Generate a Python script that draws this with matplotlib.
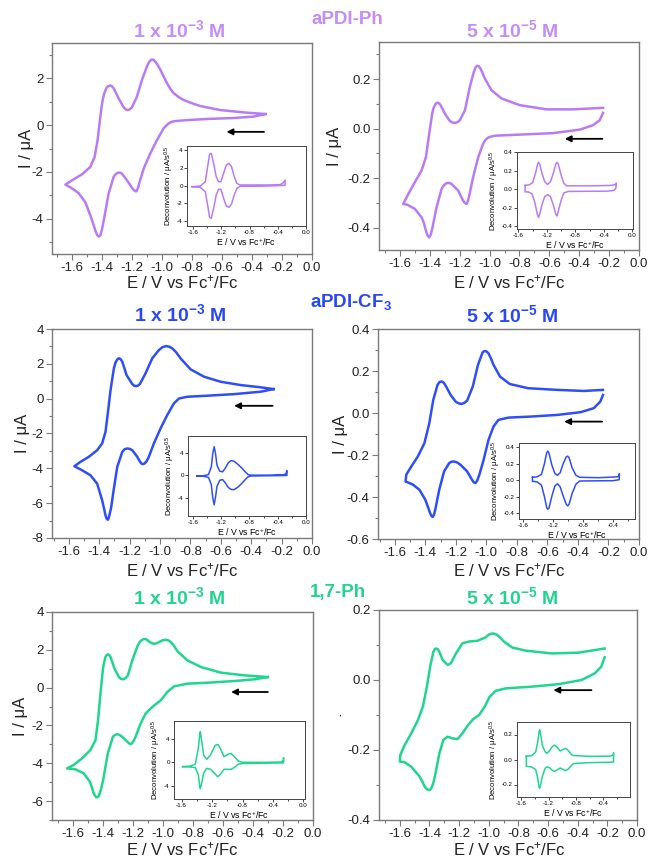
import matplotlib
matplotlib.use('Agg')
import matplotlib.pyplot as plt
from matplotlib.ticker import MultipleLocator, FormatStrFormatter, FixedLocator
from matplotlib.patches import Rectangle

plt.rcParams['font.family'] = ['Liberation Sans', 'DejaVu Sans']
plt.rcParams['mathtext.fontset'] = 'custom'
plt.rcParams['mathtext.rm'] = 'Liberation Sans'
plt.rcParams['mathtext.it'] = 'Liberation Sans:italic'
plt.rcParams['mathtext.bf'] = 'Liberation Sans:bold'
plt.rcParams['axes.unicode_minus'] = False

# ---- colours per compound
purple = '#b77cf3'
blue = '#2f4ef4'
green = '#20d590'

# ---- CV loops as (E / V, I / uA): cathodic branch first, then anodic branch
# aPDI-Ph, 1e-3 M
ph_hi_cv = [(-0.311, 0.47), (-0.389, 0.36), (-0.522, 0.30), (-0.700, 0.26), (-0.833, 0.21), (-0.911, 0.17),
            (-0.935, 0.14), (-0.956, 0.07), (-0.970, -0.02), (-0.989, -0.14), (-1.033, -0.64), (-1.078, -1.21),
            (-1.122, -1.86), (-1.149, -2.43), (-1.160, -2.68), (-1.171, -2.83), (-1.183, -2.80), (-1.196, -2.71),
            (-1.233, -2.36), (-1.267, -2.07), (-1.280, -2.03), (-1.293, -2.03), (-1.308, -2.09), (-1.322, -2.21),
            (-1.356, -2.93), (-1.384, -3.93), (-1.398, -4.40), (-1.411, -4.71), (-1.422, -4.76), (-1.433, -4.68),
            (-1.444, -4.50), (-1.458, -4.22), (-1.473, -3.93), (-1.511, -3.29), (-1.556, -2.90), (-1.607, -2.67),
            (-1.644, -2.54),
            (-1.600, -2.36), (-1.533, -2.10), (-1.478, -1.79), (-1.449, -1.36), (-1.429, -0.64), (-1.420, -0.15),
            (-1.411, 0.36), (-1.402, 0.80), (-1.393, 1.14), (-1.382, 1.40), (-1.371, 1.57), (-1.358, 1.66),
            (-1.344, 1.69), (-1.333, 1.65), (-1.322, 1.57), (-1.289, 1.14), (-1.256, 0.76), (-1.242, 0.67),
            (-1.229, 0.64), (-1.215, 0.67), (-1.200, 0.76), (-1.167, 1.21), (-1.133, 1.93), (-1.100, 2.50),
            (-1.085, 2.70), (-1.071, 2.79), (-1.058, 2.79), (-1.044, 2.71), (-1.028, 2.55), (-1.011, 2.36),
            (-0.967, 1.79), (-0.945, 1.55), (-0.922, 1.36), (-0.890, 1.20), (-0.856, 1.07), (-0.800, 0.93),
            (-0.744, 0.81), (-0.611, 0.64), (-0.456, 0.54), (-0.311, 0.47)]
ph_hi_dE = [-1.614, -1.496, -1.426, -1.393, -1.365, -1.341, -1.308, -1.271, -1.238, -1.205, -1.167, -1.129,
            -1.092, -1.054, -1.016, -0.979, -0.932, -0.555, -0.367, -0.320, -0.296,
            -0.296, -0.555, -0.932, -0.979, -1.016, -1.054, -1.092, -1.129, -1.167, -1.205, -1.238, -1.271,
            -1.308, -1.341, -1.365, -1.393, -1.426, -1.496, -1.614]
ph_hi_dI = [-0.11, -0.04, 0.45, 2.14, 3.57, 3.65, 2.52, 1.02, 0.45, 0.45, 1.39, 2.33,
            2.52, 2.14, 1.02, 0.26, 0.08, 0.08, 0.11, 0.34, 0.64,
            0.04, -0.04, -0.08, -0.30, -1.05, -2.07, -2.44, -2.29, -1.43, -0.41, -0.41, -1.05,
            -2.56, -3.68, -3.57, -2.18, -0.68, -0.19, -0.11]

# aPDI-Ph, 5e-5 M
ph_lo_cv = [(-0.241, 0.064), (-0.263, 0.034), (-0.308, 0.014), (-0.397, -0.004), (-0.575, -0.018),
            (-0.798, -0.024), (-0.954, -0.028), (-0.985, -0.031), (-1.009, -0.036), (-1.027, -0.045),
            (-1.043, -0.061), (-1.076, -0.115), (-1.110, -0.196), (-1.136, -0.270), (-1.145, -0.293),
            (-1.154, -0.304), (-1.165, -0.300), (-1.177, -0.291), (-1.210, -0.250), (-1.255, -0.223),
            (-1.272, -0.219), (-1.288, -0.220), (-1.305, -0.228), (-1.321, -0.243), (-1.355, -0.318),
            (-1.382, -0.399), (-1.394, -0.428), (-1.404, -0.439), (-1.415, -0.432), (-1.426, -0.412),
            (-1.440, -0.380), (-1.455, -0.358), (-1.500, -0.324), (-1.551, -0.307), (-1.578, -0.304),
            (-1.544, -0.264), (-1.500, -0.216), (-1.455, -0.169), (-1.426, -0.115), (-1.404, -0.020),
            (-1.384, 0.061), (-1.375, 0.083), (-1.366, 0.095), (-1.357, 0.103), (-1.348, 0.105),
            (-1.338, 0.102), (-1.328, 0.095), (-1.299, 0.061), (-1.266, 0.031), (-1.249, 0.025),
            (-1.232, 0.023), (-1.215, 0.026), (-1.199, 0.034), (-1.165, 0.074), (-1.132, 0.169),
            (-1.105, 0.230), (-1.094, 0.247), (-1.083, 0.254), (-1.072, 0.252), (-1.061, 0.243),
            (-1.047, 0.225), (-1.032, 0.203), (-0.987, 0.155), (-0.920, 0.122), (-0.798, 0.095),
            (-0.619, 0.078), (-0.441, 0.078), (-0.241, 0.084)]
ph_lo_dE = [-1.506, -1.45, -1.40, -1.36, -1.33, -1.317, -1.30, -1.27, -1.23, -1.19, -1.15, -1.11,
            -1.075, -1.057, -1.04, -1.00, -0.96, -0.92, -0.60, -0.30, -0.23, -0.225,
            -0.23, -0.26, -0.35, -0.90, -0.96, -1.00, -1.04, -1.057, -1.075, -1.11, -1.15, -1.19,
            -1.23, -1.27, -1.30, -1.317, -1.335, -1.37, -1.41, -1.46, -1.506, -1.506]
ph_lo_dI = [0.04, 0.045, 0.07, 0.17, 0.27, 0.29, 0.27, 0.17, 0.08, 0.05, 0.08, 0.17,
            0.27, 0.29, 0.27, 0.15, 0.06, 0.035, 0.035, 0.04, 0.05, 0.065,
            0.01, -0.015, -0.022, -0.025, -0.04, -0.12, -0.24, -0.29, -0.27, -0.17, -0.08, -0.06,
            -0.08, -0.17, -0.27, -0.305, -0.27, -0.14, -0.05, -0.03, -0.03, 0.04]

# aPDI-CF3, 1e-3 M
cf_hi_cv = [(-0.253, 0.55), (-0.336, 0.40), (-0.512, 0.26), (-0.688, 0.17), (-0.820, 0.11), (-0.875, 0.01),
            (-0.908, -0.27), (-0.952, -0.94), (-0.996, -1.71), (-1.040, -2.57), (-1.073, -3.34), (-1.088, -3.60),
            (-1.101, -3.72), (-1.112, -3.76), (-1.123, -3.72), (-1.136, -3.55), (-1.149, -3.34), (-1.182, -2.96),
            (-1.200, -2.88), (-1.215, -2.86), (-1.232, -2.90), (-1.248, -3.06), (-1.281, -3.92), (-1.308, -5.45),
            (-1.320, -6.20), (-1.330, -6.60), (-1.337, -6.85), (-1.343, -6.95), (-1.350, -6.90), (-1.358, -6.70),
            (-1.368, -6.30), (-1.380, -5.84), (-1.413, -4.88), (-1.457, -4.40), (-1.512, -4.11), (-1.563, -3.88),
            (-1.523, -3.63), (-1.468, -3.34), (-1.413, -2.96), (-1.380, -2.57), (-1.358, -1.90), (-1.343, -0.85),
            (-1.325, 0.49), (-1.303, 1.74), (-1.292, 2.08), (-1.281, 2.25), (-1.273, 2.31), (-1.266, 2.31),
            (-1.257, 2.25), (-1.248, 2.12), (-1.234, 1.75), (-1.220, 1.36), (-1.182, 0.84), (-1.169, 0.74),
            (-1.156, 0.72), (-1.144, 0.75), (-1.132, 0.84), (-1.095, 1.45), (-1.051, 2.31), (-1.007, 2.79),
            (-0.983, 2.96), (-0.958, 3.02), (-0.938, 2.98), (-0.919, 2.89), (-0.892, 2.65), (-0.864, 2.31),
            (-0.798, 1.68), (-0.710, 1.26), (-0.600, 0.97), (-0.468, 0.78), (-0.336, 0.65), (-0.253, 0.55)]
cf_hi_dE = [-1.544, -1.45, -1.38, -1.34, -1.32, -1.30, -1.28, -1.26, -1.22, -1.18, -1.14, -1.10,
            -1.06, -1.02, -0.97, -0.91, -0.86, -0.82, -0.78, -0.50, -0.30, -0.28, -0.27,
            -0.27, -0.50, -0.78, -0.82, -0.86, -0.91, -0.97, -1.02, -1.06, -1.10, -1.14, -1.18,
            -1.22, -1.26, -1.28, -1.30, -1.32, -1.34, -1.38, -1.45, -1.544]
cf_hi_dI = [-0.15, -0.10, 0.10, 1.5, 3.8, 5.1, 3.8, 1.8, 0.7, 0.6, 1.3, 2.2,
            2.6, 2.5, 2.0, 1.3, 0.6, 0.1, 0.0, 0.0, 0.1, 0.4, 0.8,
            -0.05, -0.10, -0.15, -0.3, -0.8, -1.5, -2.2, -2.6, -2.55, -2.2, -1.4, -0.8,
            -0.9, -2.0, -3.9, -5.3, -4.0, -1.7, -0.4, -0.2, -0.15]

# aPDI-CF3, 5e-5 M
cf_lo_cv = [(-0.236, 0.086), (-0.253, 0.055), (-0.296, 0.023), (-0.382, 0.004), (-0.533, -0.009),
            (-0.706, -0.017), (-0.856, -0.022), (-0.921, -0.033), (-0.953, -0.064), (-0.986, -0.128),
            (-1.018, -0.223), (-1.046, -0.294), (-1.060, -0.322), (-1.072, -0.334), (-1.083, -0.330),
            (-1.094, -0.318), (-1.126, -0.278), (-1.169, -0.247), (-1.190, -0.236), (-1.212, -0.231),
            (-1.228, -0.232), (-1.244, -0.239), (-1.277, -0.278), (-1.309, -0.366), (-1.335, -0.461),
            (-1.344, -0.486), (-1.352, -0.495), (-1.360, -0.490), (-1.369, -0.476), (-1.384, -0.445),
            (-1.400, -0.413), (-1.438, -0.366), (-1.481, -0.341), (-1.520, -0.329), (-1.529, -0.327),
            (-1.525, -0.294), (-1.492, -0.255), (-1.449, -0.207), (-1.406, -0.144), (-1.374, -0.049),
            (-1.348, 0.062), (-1.320, 0.134), (-1.306, 0.148), (-1.292, 0.150), (-1.279, 0.144),
            (-1.266, 0.129), (-1.234, 0.086), (-1.201, 0.054), (-1.182, 0.046), (-1.163, 0.043),
            (-1.145, 0.048), (-1.126, 0.059), (-1.089, 0.126), (-1.055, 0.229), (-1.025, 0.288),
            (-1.016, 0.294), (-1.007, 0.295), (-0.997, 0.292), (-0.986, 0.284), (-0.970, 0.260),
            (-0.953, 0.229), (-0.910, 0.173), (-0.846, 0.138), (-0.727, 0.118), (-0.533, 0.110),
            (-0.361, 0.105), (-0.236, 0.110)]
cf_lo_dE = [-1.48, -1.42, -1.36, -1.32, -1.29, -1.276, -1.26, -1.22, -1.18, -1.147, -1.11, -1.07,
            -1.03, -1.009, -0.99, -0.95, -0.90, -0.85, -0.60, -0.35, -0.32, -0.32,
            -0.32, -0.40, -0.85, -0.90, -0.95, -0.99, -1.009, -1.03, -1.07, -1.11, -1.147, -1.18,
            -1.22, -1.26, -1.276, -1.29, -1.32, -1.36, -1.42, -1.48, -1.48]
cf_lo_dI = [0.035, 0.04, 0.07, 0.20, 0.33, 0.352, 0.33, 0.18, 0.08, 0.059, 0.09, 0.20,
            0.28, 0.291, 0.27, 0.15, 0.06, 0.035, 0.03, 0.04, 0.05, 0.075,
            0.006, -0.006, -0.01, -0.05, -0.16, -0.29, -0.311, -0.29, -0.19, -0.08, -0.043, -0.07,
            -0.19, -0.34, -0.352, -0.33, -0.20, -0.06, -0.02, -0.014, 0.035]

# 1,7-Ph, 1e-3 M
bay_hi_cv = [(-0.301, 0.56), (-0.390, 0.44), (-0.524, 0.35), (-0.703, 0.26), (-0.837, 0.21), (-0.926, 0.07),
             (-0.971, -0.23), (-1.015, -0.67), (-1.071, -1.02), (-1.116, -1.37), (-1.149, -1.90), (-1.183, -2.60),
             (-1.198, -2.85), (-1.212, -2.99), (-1.225, -2.95), (-1.238, -2.86), (-1.272, -2.60), (-1.290, -2.50),
             (-1.305, -2.46), (-1.320, -2.50), (-1.334, -2.60), (-1.368, -3.48), (-1.399, -4.89), (-1.414, -5.40),
             (-1.428, -5.73), (-1.436, -5.79), (-1.444, -5.80), (-1.453, -5.72), (-1.462, -5.59), (-1.475, -5.25),
             (-1.488, -4.97), (-1.529, -4.53), (-1.584, -4.32), (-1.640, -4.27),
             (-1.596, -4.09), (-1.540, -3.74), (-1.484, -3.30), (-1.450, -2.78), (-1.433, -1.72), (-1.417, -0.32),
             (-1.399, 1.09), (-1.384, 1.62), (-1.376, 1.72), (-1.368, 1.76), (-1.359, 1.73), (-1.350, 1.62),
             (-1.337, 1.33), (-1.323, 1.00), (-1.294, 0.56), (-1.280, 0.46), (-1.265, 0.44), (-1.250, 0.50),
             (-1.234, 0.65), (-1.205, 1.44), (-1.171, 2.18), (-1.155, 2.42), (-1.138, 2.53), (-1.127, 2.57),
             (-1.116, 2.57), (-1.105, 2.52), (-1.093, 2.44), (-1.077, 2.36), (-1.060, 2.32), (-1.043, 2.34),
             (-1.026, 2.41), (-1.004, 2.50), (-0.982, 2.53), (-0.965, 2.50), (-0.948, 2.41), (-0.926, 2.20),
             (-0.904, 1.93), (-0.837, 1.44), (-0.747, 1.09), (-0.613, 0.79), (-0.457, 0.65), (-0.301, 0.56)]
bay_hi_dE = [-1.587, -1.49, -1.42, -1.38, -1.36, -1.354, -1.34, -1.31, -1.27, -1.22, -1.16, -1.126,
             -1.10, -1.043, -0.99, -0.951, -0.91, -0.855, -0.80, -0.50, -0.30, -0.262, -0.262,
             -0.262, -0.50, -0.80, -0.855, -0.91, -0.951, -0.99, -1.043, -1.10, -1.126, -1.16, -1.22,
             -1.27, -1.31, -1.34, -1.354, -1.36, -1.38, -1.42, -1.49, -1.587]
bay_hi_dI = [-0.74, -0.65, -0.3, 2.5, 5.0, 5.26, 4.0, 1.2, 0.51, 1.3, 2.9, 3.09,
             2.6, 0.97, 1.4, 1.54, 1.0, 0.23, 0.0, 0.0, 0.05, 0.3, 0.8,
             -0.1, -0.15, -0.2, -0.3, -0.9, -1.2, -1.2, -1.2, -2.2, -2.46, -2.0, -1.2,
             -1.03, -1.8, -3.8, -4.5, -4.3, -2.2, -0.9, -0.8, -0.74]

# 1,7-Ph, 5e-5 M
bay_lo_cv = [(-0.218, 0.065), (-0.241, 0.038), (-0.285, 0.019), (-0.374, 0.000), (-0.530, -0.012),
             (-0.709, -0.019), (-0.887, -0.024), (-0.954, -0.031), (-0.994, -0.048), (-1.027, -0.076),
             (-1.065, -0.100), (-1.105, -0.112), (-1.143, -0.131), (-1.177, -0.152), (-1.210, -0.169),
             (-1.243, -0.167), (-1.277, -0.162), (-1.306, -0.171), (-1.333, -0.210), (-1.359, -0.267),
             (-1.374, -0.295), (-1.388, -0.310), (-1.398, -0.314), (-1.408, -0.314), (-1.420, -0.311),
             (-1.431, -0.305), (-1.448, -0.290), (-1.466, -0.276), (-1.522, -0.248), (-1.567, -0.235),
             (-1.600, -0.233),
             (-1.596, -0.214), (-1.567, -0.186), (-1.522, -0.152), (-1.477, -0.114), (-1.444, -0.076),
             (-1.417, -0.019), (-1.393, 0.043), (-1.373, 0.081), (-1.364, 0.088), (-1.355, 0.090),
             (-1.346, 0.089), (-1.337, 0.084), (-1.323, 0.070), (-1.310, 0.057), (-1.277, 0.043),
             (-1.255, 0.048), (-1.221, 0.076), (-1.177, 0.105), (-1.132, 0.110), (-1.076, 0.112),
             (-1.021, 0.122), (-0.998, 0.130), (-0.976, 0.133), (-0.960, 0.132), (-0.943, 0.129),
             (-0.920, 0.120), (-0.898, 0.110), (-0.842, 0.093), (-0.753, 0.084), (-0.575, 0.076),
             (-0.397, 0.078), (-0.218, 0.090)]
bay_lo_dE = [-1.527, -1.45, -1.39, -1.36, -1.34, -1.332, -1.32, -1.29, -1.25, -1.225, -1.19, -1.15,
             -1.114, -1.08, -1.031, -0.99, -0.948, -0.91, -0.87, -0.836, -0.60, -0.30, -0.253, -0.25,
             -0.25, -0.30, -0.60, -0.836, -0.87, -0.91, -0.948, -0.99, -1.031, -1.08, -1.114, -1.15,
             -1.19, -1.225, -1.25, -1.29, -1.32, -1.332, -1.34, -1.36, -1.39, -1.45, -1.527, -1.527]
bay_lo_dI = [0.027, 0.03, 0.06, 0.14, 0.22, 0.238, 0.21, 0.11, 0.06, 0.049, 0.07, 0.10,
             0.116, 0.10, 0.068, 0.08, 0.089, 0.07, 0.04, 0.032, 0.025, 0.027, 0.035, 0.054,
             -0.02, -0.022, -0.025, -0.032, -0.05, -0.075, -0.089, -0.08, -0.068, -0.085, -0.095, -0.085,
             -0.065, -0.059, -0.07, -0.13, -0.21, -0.23, -0.22, -0.15, -0.08, -0.06, -0.054, 0.027]

# scan direction arrows: (start E, end E, I)
arrows = [(-0.32, -0.57, -0.29), (-0.245, -0.497, -0.041), (-0.259, -0.512, -0.41),
          (-0.242, -0.490, -0.041), (-0.301, -0.546, -0.23), (-0.307, -0.564, -0.029)]

W, H = 648, 857
fig = plt.figure(figsize=(W / 100, H / 100), dpi=100)


def box(l, t, r, b):
    return [l / W, 1 - b / H, (r - l) / W, (b - t) / H]


def ftext(x, y, s, **kw):
    fig.text(x / W, 1 - y / H, s, ha='center', va='center', **kw)


# cv, inset E, inset I, colour, axes box, xlim, ylim, y step, y fmt,
# inset box, inset xlim, inset ylim, inset yticks, inset yfmt, inset xticks
panels = [
    (ph_hi_cv, ph_hi_dE, ph_hi_dI, purple, (52, 43, 312, 254), (-1.733, 0), (-5.5, 3.5), 2, '%d',
     (187, 146, 306, 226), (-1.685, 0.0), (-4.56, 4.49), [-4, -2, 0, 2, 4], '%d', [-1.6, -1.2, -0.8, -0.4, 0.0]),
    (ph_lo_cv, ph_lo_dE, ph_lo_dI, purple, (379, 42, 639, 250), (-1.74, 0), (-0.49, 0.35), 0.2, '%.1f',
     (517, 152, 633, 229), (-1.62, 0.01), (-0.43, 0.40), [-0.4, -0.2, 0, 0.2, 0.4], '%.1f', [-1.6, -1.2, -0.8, -0.4, 0.0]),
    (cf_hi_cv, cf_hi_dE, cf_hi_dI, blue, (52, 329, 312, 538), (-1.71, 0), (-8, 4), 2, '%d',
     (188, 436, 306, 516), (-1.67, 0.0), (-7.3, 7.0), [-4, 0, 4], '%d', [-1.6, -1.2, -0.8, -0.4, 0.0]),
    (cf_lo_cv, cf_lo_dE, cf_lo_dI, blue, (378, 329, 639, 539), (-1.71, 0), (-0.6, 0.4), 0.2, '%.1f',
     (519, 443, 635, 519), (-1.66, -0.11), (-0.47, 0.45), [-0.4, -0.2, 0, 0.2, 0.4], '%.1f', [-1.6, -1.2, -0.8, -0.4]),
    (bay_hi_cv, bay_hi_dE, bay_hi_dI, green, (52, 612, 313, 820), (-1.74, 0), (-7, 4), 2, '%d',
     (174, 721, 305, 799), (-1.70, 0.02), (-6.3, 7.1), [-4, 0, 4], '%d', [-1.6, -1.2, -0.8, -0.4, 0.0]),
    (bay_lo_cv, bay_lo_dE, bay_lo_dI, green, (379, 610, 637, 820), (-1.74, 0), (-0.4, 0.2), 0.2, '%.1f',
     (517, 722, 630, 797), (-1.663, -0.01), (-0.30, 0.30), [-0.2, 0, 0.2], '%.1f', [-1.6, -1.2, -0.8, -0.4, 0.0]),
]

spine_col = '#7a7a7a'
for k, (cv, dE, dI, col, bx, xl, yl, ymaj, yfmt, ibx, ixl, iyl, iyt, iyfmt, ixt) in enumerate(panels):
    E, I = zip(*cv)
    ax = fig.add_axes(box(*bx))
    ax.plot(E, I, color=col, lw=1.8, solid_joinstyle='round')
    ax.set_xlim(*xl)
    ax.set_ylim(*yl)
    ax.xaxis.set_major_locator(MultipleLocator(0.2))
    ax.xaxis.set_minor_locator(MultipleLocator(0.1))
    ax.xaxis.set_major_formatter(FormatStrFormatter('%.1f'))
    ax.yaxis.set_major_locator(MultipleLocator(ymaj))
    ax.yaxis.set_minor_locator(MultipleLocator(ymaj / 2))
    ax.yaxis.set_major_formatter(FormatStrFormatter(yfmt))
    ax.tick_params(which='major', direction='out', length=4, width=0.8, color=spine_col,
                   labelsize=9.5, labelcolor='#222222', pad=2)
    ax.tick_params(which='minor', direction='out', length=2.5, width=0.8, color=spine_col)
    for s in ax.spines.values():
        s.set_color(spine_col)
        s.set_linewidth(1.0)
    a0, a1, ay = arrows[k]
    ax.annotate('', xy=(a1, ay), xytext=(a0, ay),
                arrowprops=dict(arrowstyle='-|>', color='black', lw=1.3, mutation_scale=9,
                                shrinkA=0, shrinkB=0))

    # inset: deconvoluted voltammogram
    ins = fig.add_axes(box(*ibx))
    ins.plot(dE, dI, color=col, lw=1.1, solid_joinstyle='round')
    ins.set_xlim(*ixl)
    ins.set_ylim(*iyl)
    ins.xaxis.set_major_locator(FixedLocator(ixt))
    ins.xaxis.set_minor_locator(MultipleLocator(0.2))
    ins.xaxis.set_major_formatter(FormatStrFormatter('%.1f'))
    ins.yaxis.set_major_locator(FixedLocator(iyt))
    ins.yaxis.set_major_formatter(FormatStrFormatter(iyfmt))
    ins.tick_params(which='major', direction='out', length=2, width=0.5, labelsize=4.5, pad=1)
    ins.tick_params(which='minor', direction='out', length=1.2, width=0.5)
    for s in ins.spines.values():
        s.set_color('#444444')
        s.set_linewidth(0.7)
    ins.set_xlabel('E / V vs Fc$^{+}$/Fc', fontsize=6.3, labelpad=1)
    ins.set_ylabel('Deconvolution / μA/s$^{0.5}$', fontsize=5.6, labelpad=1)

# axis labels as figure text
for x, y in [(182, 282), (509, 282), (182, 570), (509, 570), (182, 849), (509, 849)]:
    ftext(x, y, 'E / V vs Fc$^{+}$/Fc', fontsize=12, color='#222222')
for x, y in [(26, 148), (335, 146), (22, 433), (341, 434), (21, 716), (335, 715)]:
    ftext(x, y, 'I / μA', fontsize=12, color='#222222', rotation=90)
# the last y label is partly hidden in the original
fig.add_artist(Rectangle((318 / W, 1 - 760 / H), 22 / W, 90 / H, transform=fig.transFigure,
                         facecolor='white', edgecolor='none', zorder=5))

# compound and concentration headings
ftext(347, 19, 'aPDI-Ph', fontsize=13.5, fontweight='bold', color='#c48cf6')
ftext(179, 30, r'1 x 10$^{\mathbf{-3}}$ M', fontsize=14, fontweight='bold', color='#c48cf6')
ftext(512, 30, r'5 x 10$^{\mathbf{-5}}$ M', fontsize=14, fontweight='bold', color='#c48cf6')
ftext(351, 302, r'aPDI-CF$_{\mathbf{3}}$', fontsize=13.5, fontweight='bold', color='#2a48f2')
ftext(180, 314, r'1 x 10$^{\mathbf{-3}}$ M', fontsize=14, fontweight='bold', color='#2a48f2')
ftext(512, 315, r'5 x 10$^{\mathbf{-5}}$ M', fontsize=14, fontweight='bold', color='#2a48f2')
ftext(338, 592, '1,7-Ph', fontsize=13.5, fontweight='bold', color='#22d390')
ftext(179, 597, r'1 x 10$^{\mathbf{-3}}$ M', fontsize=14, fontweight='bold', color='#22d390')
ftext(512, 597, r'5 x 10$^{\mathbf{-5}}$ M', fontsize=14, fontweight='bold', color='#22d390')

fig.savefig('out.png', dpi=100, facecolor='white')
